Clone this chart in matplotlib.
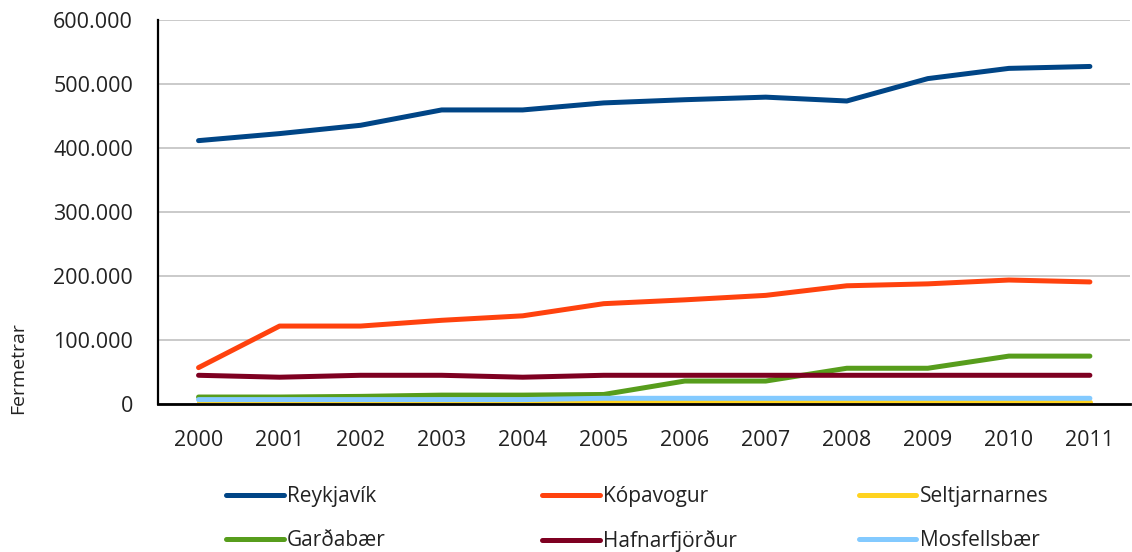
import numpy as np
import matplotlib.pyplot as plt
from matplotlib.ticker import FuncFormatter

plt.rcParams['font.family'] = ['Open Sans', 'DejaVu Sans']

# data
years = ['2000', '2001', '2002', '2003', '2004', '2005',
         '2006', '2007', '2008', '2009', '2010', '2011']
reykjavik = [412000, 423000, 436000, 460000, 460000, 471000,
             476000, 480000, 474000, 509000, 525000, 528000]
kopavogur = [57000, 122000, 122000, 131000, 138000, 157000,
             163000, 170000, 185000, 188000, 194000, 191000]
seltjarnarnes = [4000, 4000, 4000, 4000, 4000, 4000,
                 4000, 4000, 4000, 4000, 4000, 4000]
gardabaer = [11000, 11000, 12000, 14000, 14000, 15000,
             36000, 36000, 56000, 56000, 75000, 75000]
hafnarfjordur = [45000, 42000, 45000, 45000, 42000, 45000,
                 45000, 45000, 45000, 45000, 45000, 45000]
mosfellsbaer = [7000, 7000, 7000, 7000, 7000, 9000,
                9000, 9000, 9000, 9000, 9000, 9000]

series = [('Reykjavík', reykjavik, '#004586'),
          ('Kópavogur', kopavogur, '#ff420e'),
          ('Seltjarnarnes', seltjarnarnes, '#ffd320'),
          ('Garðabær', gardabaer, '#579d1c'),
          ('Hafnarfjörður', hafnarfjordur, '#7e0021'),
          ('Mosfellsbær', mosfellsbaer, '#83caff')]

fig = plt.figure(figsize=(11.32, 5.52), dpi=100)
ax = fig.add_axes([0.1396, 0.268, 0.859, 0.695])

x = np.arange(len(years))
lines = {}
for name, vals, col in series:
    ln, = ax.plot(x, vals, color=col, lw=3.6, solid_capstyle='round',
                  solid_joinstyle='round', label=name)
    lines[name] = ln

ax.set_xlim(-0.5, len(years) - 0.5)
ax.set_ylim(0, 600000)
ax.set_yticks(np.arange(0, 600001, 100000))
ax.yaxis.set_major_formatter(FuncFormatter(lambda v, p: f'{int(v):,}'.replace(',', '.')))
ax.set_xticks(x)
ax.set_xticklabels(years)
ax.tick_params(axis='both', length=0, labelsize=15.5, colors='#222222')
ax.tick_params(axis='x', pad=19)
ax.tick_params(axis='y', pad=18)

ax.grid(axis='y', color='#c6c6c6', lw=1.3)
ax.set_axisbelow(True)
for s in ['top', 'right']:
    ax.spines[s].set_visible(False)
ax.spines['left'].set_linewidth(1.6)
ax.spines['bottom'].set_linewidth(2.0)

fig.text(0.016, 0.333, 'Fermetrar', rotation=90, fontsize=14,
         ha='center', va='center', color='#222222')

# legend: three columns placed by hand
cols = [['Reykjavík', 'Garðabær'],
        ['Kópavogur', 'Hafnarfjörður'],
        ['Seltjarnarnes', 'Mosfellsbær']]
xpos = [0.200, 0.479, 0.759]
for names, xp in zip(cols, xpos):
    leg = fig.legend([lines[n] for n in names], names, loc='upper left',
                     bbox_to_anchor=(xp, 0.119), frameon=False,
                     fontsize=15, handlelength=2.75, handletextpad=0.15,
                     labelspacing=1.1, borderaxespad=0, borderpad=0)
    for t in leg.get_texts():
        t.set_color('#222222')

fig.savefig('out.png', dpi=100)
